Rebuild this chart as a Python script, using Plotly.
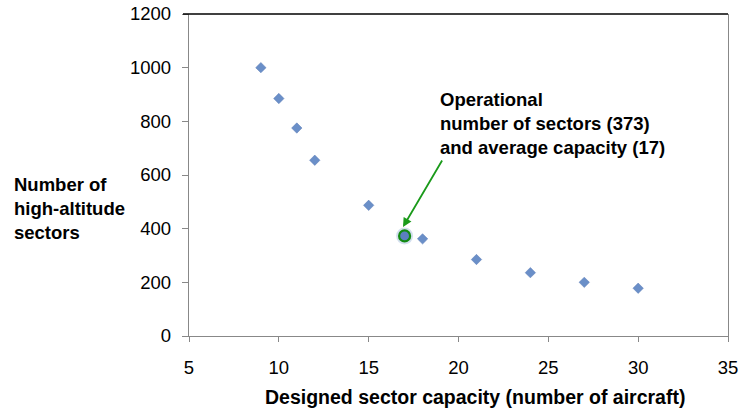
import plotly.graph_objects as go

capacity = [9, 10, 11, 12, 15, 18, 21, 24, 27, 30]
sectors = [1000, 885, 775, 655, 487, 362, 285, 236, 200, 178]
op_capacity = [17]
op_sectors = [373]
x_ticks = [5, 10, 15, 20, 25, 30, 35]
y_ticks = [0, 200, 400, 600, 800, 1000, 1200]

FONT = "Liberation Sans, Arial, sans-serif"
L, R, T, B = 189, 12, 14, 74
PW, PH = 740 - L - R, 410 - T - B


def px_x(p):
    return (p - L) / PW


def px_y(p):
    return (410 - B - p) / PH


fig = go.Figure()
fig.add_trace(go.Scatter(
    x=capacity, y=sectors, mode="markers",
    marker=dict(symbol="diamond", size=8, color="#6a8fc8",
                line=dict(color="#5a7bb5", width=0.5)),
    showlegend=False))
fig.add_trace(go.Scatter(
    x=op_capacity, y=op_sectors, mode="markers",
    marker=dict(symbol="circle", size=17, color="rgba(79,129,189,0.25)",
                line=dict(width=0)),
    showlegend=False))
fig.add_trace(go.Scatter(
    x=op_capacity, y=op_sectors, mode="markers",
    marker=dict(symbol="circle", size=11, color="#5b7fbf",
                line=dict(color="#128a12", width=2.2)),
    showlegend=False))

fig.add_annotation(
    x=16.91, y=406, xref="x", yref="y", text="",
    showarrow=True, arrowhead=2, arrowsize=1, arrowwidth=1.8,
    arrowcolor="#1a9a1a", ax=40, ay=-68)
fig.add_annotation(
    x=px_x(438), y=px_y(123), xref="paper", yref="paper",
    xanchor="left", yanchor="middle", align="left", showarrow=False,
    text="<b>Operational<br>number of sectors (373)<br>and average capacity (17)</b>",
    font=dict(family=FONT, size=18.5, color="black"))
fig.add_annotation(
    x=px_x(12), y=px_y(208), xref="paper", yref="paper",
    xanchor="left", yanchor="middle", align="left", showarrow=False,
    text="<b>Number of<br>high-altitude<br>sectors</b>",
    font=dict(family=FONT, size=18.5, color="black"))
fig.add_annotation(
    x=px_x(475), y=px_y(397), xref="paper", yref="paper",
    xanchor="center", yanchor="middle", showarrow=False,
    text="<b>Designed sector capacity (number of aircraft)</b>",
    font=dict(family=FONT, size=19.5, color="black"))

# black top border line
fig.add_shape(type="line", xref="paper", yref="paper",
              x0=px_x(183), x1=1, y0=1, y1=1,
              line=dict(color="black", width=1.5))

axis_common = dict(showgrid=False, zeroline=False, showline=True,
                   linecolor="#888888", linewidth=1.3, ticks="outside",
                   tickcolor="#888888", automargin=False,
                   tickfont=dict(family=FONT, size=18.5, color="black"))

fig.update_xaxes(range=[5, 35], tickvals=x_ticks, ticklen=5,
                 ticklabelstandoff=10, **axis_common)
fig.update_yaxes(range=[0, 1200], tickvals=y_ticks, ticklen=6, mirror=True,
                 ticklabelstandoff=7, **axis_common)

fig.update_layout(width=740, height=410,
                  margin=dict(l=L, r=R, t=T, b=B),
                  plot_bgcolor="white", paper_bgcolor="white")
fig.write_html("out.html", config={"displayModeBar": False},
               post_script="document.body.style.margin='0';document.body.style.overflow='hidden';")
